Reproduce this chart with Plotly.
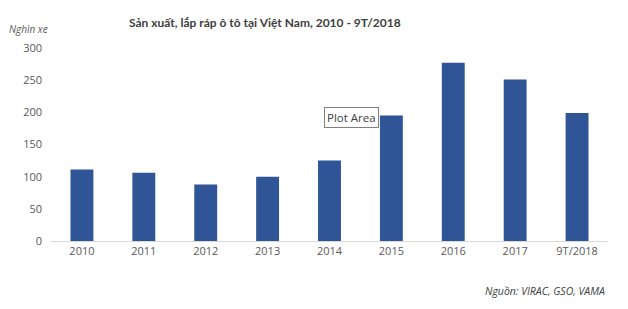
import plotly.graph_objects as go

categories = ["2010", "2011", "2012", "2013", "2014", "2015", "2016", "2017", "9T/2018"]
values = [111, 106, 88, 100, 125, 195, 277, 251, 199]
y_ticks = [0, 50, 100, 150, 200, 250, 300]

W, H = 628, 309
l, r, t, b = 51, 20, 48, 68
pw, ph = W - l - r, H - t - b


def px2paper(px, py):
    return (px - l) / pw, 1 - (py - t) / ph


fig = go.Figure()
fig.add_trace(go.Bar(x=categories, y=values, marker=dict(color="#2F5597", line=dict(width=0)),
                     hoverinfo="skip"))

font_family = "Open Sans, Noto Sans, sans-serif"


def ann(text, px, py, xanchor="center", **kw):
    x, y = px2paper(px, py)
    return dict(text=text, x=x, y=y, xref="paper", yref="paper", xanchor=xanchor,
                yanchor="middle", showarrow=False, **kw)


fig.update_layout(
    width=W, height=H,
    margin=dict(l=l, r=r, t=t, b=b, autoexpand=False),
    paper_bgcolor="white", plot_bgcolor="white",
    bargap=0.63,
    showlegend=False,
    font=dict(family=font_family, size=11, color="#595959"),
    xaxis=dict(type="category", showgrid=False, zeroline=False, showline=True,
               linecolor="#D9D9D9", linewidth=1, ticks="", automargin=False,
               tickfont=dict(size=11, color="#595959")),
    yaxis=dict(range=[0, 300], tickvals=y_ticks, showgrid=False, zeroline=False, automargin=False,
               showline=False, ticks="", ticklabelstandoff=8, tickfont=dict(size=11, color="#595959")),
    annotations=[
        ann("<b>Sản xuất, lắp ráp ô tô tại Việt Nam, 2010 - 9T/2018</b>", 265, 23,
            font=dict(family="Lato, Open Sans, sans-serif", size=12, color="#404040")),
        ann("<i>Nghìn xe</i>", 7, 29, xanchor="left", font=dict(size=10, color="#595959")),
        ann("<i>Nguồn: VIRAC, GSO, VAMA</i>", 607, 291, xanchor="right",
            font=dict(size=10.5, color="#404040")),
        ann("Plot Area", 351, 118, bordercolor="#7F7F7F", borderwidth=1, borderpad=2,
            bgcolor="white", font=dict(size=11.5, color="#404040")),
    ],
)

fig.write_html("out.html")
